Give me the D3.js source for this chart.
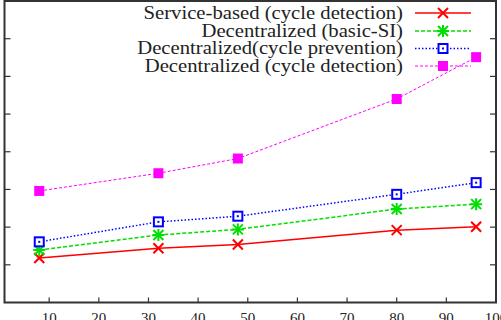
<!DOCTYPE html>
<html><head><meta charset="utf-8">
<script src="https://cdn.jsdelivr.net/npm/d3@7"></script>
<style>html,body{margin:0;padding:0;background:#fff;overflow:hidden}</style>
</head><body>
<script>
const xValues = [8, 32, 48, 80, 96];
const seriesNames = ["Service-based (cycle detection)", "Decentralized (basic-SI)", "Decentralized(cycle prevention)", "Decentralized (cycle detection)"];
const serviceBased = [1.18, 1.44, 1.54, 1.92, 2.01];
const basicSI = [1.39, 1.79, 1.94, 2.48, 2.61];
const cyclePrevention = [1.61, 2.14, 2.29, 2.87, 3.18];
const cycleDetection = [2.96, 3.43, 3.82, 5.40, 6.51];
const xTicks = [10, 20, 30, 40, 50, 60, 70, 80, 90, 100];
const yTicks = [1, 2, 3, 4, 5, 6, 7];

const W = 501, H = 320;
const svg = d3.select("body").append("svg").attr("width", W).attr("height", H);
const x = d3.scaleLinear().domain([1, 100]).range([4.5, 496]);
const y = d3.scaleLinear().domain([0, 8]).range([302.5, 1]);

const styles = [
  {data: serviceBased, color: "#ff0000", width: 1.5, dash: null, marker: "x"},
  {data: basicSI, color: "#00e000", width: 1.5, dash: "4,2", marker: "star"},
  {data: cyclePrevention, color: "#0000ff", width: 1.5, dash: "1.5,2", marker: "sq"},
  {data: cycleDetection, color: "#ff00ff", width: 1, dash: "3,2", marker: "fsq"}
];

const axisG = svg.append("g").attr("stroke", "#333").attr("stroke-width", 1.2);
yTicks.forEach(v => {
  axisG.append("line").attr("x1", x.range()[0]).attr("x2", x.range()[0] + 6).attr("y1", y(v)).attr("y2", y(v));
  axisG.append("line").attr("x1", x.range()[1]).attr("x2", x.range()[1] - 6).attr("y1", y(v)).attr("y2", y(v));
});
xTicks.forEach(v => {
  axisG.append("line").attr("x1", x(v)).attr("x2", x(v)).attr("y1", y(0)).attr("y2", y(0) - 5);
});
svg.append("g").selectAll("text").data(xTicks).join("text")
  .attr("x", d => x(d)).attr("y", 323).attr("text-anchor", "middle")
  .attr("font-family", "Liberation Serif, Times New Roman, serif").attr("font-size", 15)
  .attr("fill", "#222").text(d => d);

function drawMarker(g, type, cx, cy, color) {
  const s = 5;
  if (type === "x" || type === "star") {
    g.append("path").attr("d", `M${cx-s},${cy-s}L${cx+s},${cy+s}M${cx-s},${cy+s}L${cx+s},${cy-s}`)
      .attr("stroke", color).attr("stroke-width", 2).attr("fill", "none");
    if (type === "star") {
      g.append("path").attr("d", `M${cx-s-1},${cy}L${cx+s+1},${cy}M${cx},${cy-s-1}L${cx},${cy+s+1}`)
        .attr("stroke", color).attr("stroke-width", 2).attr("fill", "none");
    }
  } else if (type === "sq") {
    g.append("rect").attr("x", cx - 4.5).attr("y", cy - 4.5).attr("width", 9).attr("height", 9)
      .attr("stroke", color).attr("stroke-width", 2).attr("fill", "#fff");
    g.append("rect").attr("x", cx - 1).attr("y", cy - 1).attr("width", 2).attr("height", 2).attr("fill", color);
  } else {
    g.append("rect").attr("x", cx - 5).attr("y", cy - 5).attr("width", 10).attr("height", 10).attr("fill", color);
  }
}

const line = d3.line().x((d, i) => x(xValues[i])).y(d => y(d));
styles.forEach(st => {
  const g = svg.append("g");
  g.append("path").attr("d", line(st.data)).attr("fill", "none").attr("stroke", st.color)
    .attr("stroke-width", st.width).attr("stroke-dasharray", st.dash);
  st.data.forEach((d, i) => drawMarker(g, st.marker, x(xValues[i]), y(d), st.color));
});

// legend
const legY = [13, 31, 48.5, 66];
const legScale = 1.15;
seriesNames.forEach((name, i) => {
  const st = styles[i];
  const g = svg.append("g");
  g.append("g").attr("transform", `translate(403,${legY[i]}) scale(${legScale},1)`)
    .append("text").attr("x", 0).attr("y", 0).attr("dy", "0.33em").attr("text-anchor", "end")
    .attr("font-family", "Liberation Serif, Times New Roman, serif").attr("font-size", 18)
    .attr("fill", "#222").text(name);
  g.append("line").attr("x1", 415).attr("x2", 471).attr("y1", legY[i]).attr("y2", legY[i])
    .attr("stroke", st.color).attr("stroke-width", st.width).attr("stroke-dasharray", st.dash);
  drawMarker(g, st.marker, 443, legY[i], st.color);
});

svg.append("rect").attr("x", x.range()[0]).attr("y", y.range()[1]).attr("width", x.range()[1] - x.range()[0])
  .attr("height", y.range()[0] - y.range()[1]).attr("fill", "none").attr("stroke", "#333").attr("stroke-width", 2);
</script>
</body></html>
